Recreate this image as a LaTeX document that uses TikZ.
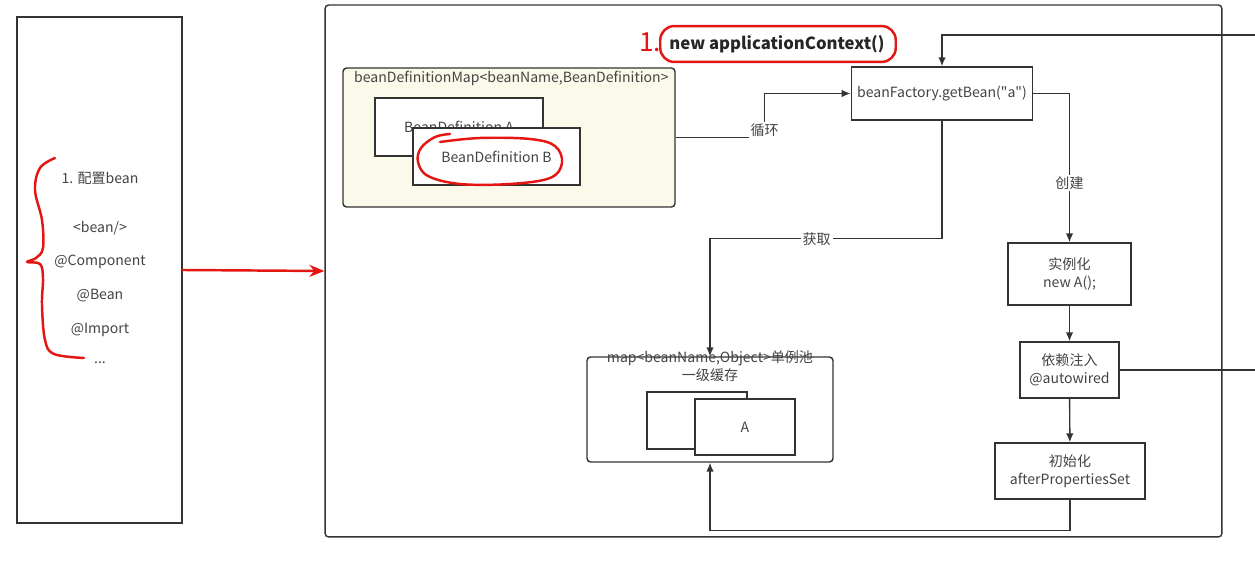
\documentclass[tikz,border=0pt]{standalone}
\usepackage{fontspec}
\setmainfont{Noto Sans CJK SC}[Ligatures=TeXOff]
\usepackage{tikz}
\usetikzlibrary{arrows.meta, positioning, calc}
\definecolor{inkgray}{RGB}{51, 51, 51}
\definecolor{textgray}{RGB}{68, 68, 68}
\definecolor{penred}{RGB}{228, 22, 18}
\definecolor{mapcream}{RGB}{251, 249, 234}

\begin{document}
\begin{tikzpicture}[x=0.02cm, y=-0.02cm,
    every node/.style={font=\fontsize{8}{10}\selectfont, text=textgray, align=center},
    box/.style={draw=inkgray, line width=0.8pt, fill=white},
    flow/.style={draw=inkgray, line width=0.8pt, -{Latex[length=1.8mm, width=1.5mm]}},
    wire/.style={draw=inkgray, line width=0.8pt},
    lbl/.style={fill=white, inner sep=1pt},
    pen/.style={draw=penred, line width=1.4pt, line cap=round, line join=round}]
  \useasboundingbox (0,0) rectangle (1255,570);

  \node[box, minimum width=3.3cm, minimum height=10.12cm] (cfg) at (99.5,270) {};
  \foreach \i/\y/\txt in {1/178/{1. 配置bean}, 2/228/{<bean/>}, 3/262/{@Component},
      4/296/{@Bean}, 5/330/{@Import}, 6/363/{...}}{
    \node (cfg\i) at (100,\y) {\txt};
  }

  \node[box, rounded corners=2pt, minimum width=17.94cm, minimum height=10.64cm] (ctx) at (773.5,271) {};
  \node[font=\fontsize{9.5}{12}\selectfont\bfseries, text=black!85] (title) at (777,44) {new applicationContext()};
  \node[text=penred, font=\fontsize{15}{17}\selectfont] (titlenum) at (650,42) {1.};

  \node[box, fill=mapcream, rounded corners=2pt, minimum width=6.64cm, minimum height=2.78cm] (bdmap) at (509,137.5) {};
  \node[anchor=west] (bdmaplbl) at (348,78) {beanDefinitionMap<beanName,BeanDefinition>};
  \node[box, minimum width=3.36cm, minimum height=1.16cm] (bdA) at (459,127) {BeanDefinition A};
  \node[box, minimum width=3.34cm, minimum height=1.14cm] (bdB) at (496.5,156.5) {BeanDefinition B};

  \node[box, minimum width=3.56cm, minimum height=1.06cm] (getbean) at (942,93.5) {beanFactory.getBean("a")};
  \node[box, minimum width=2.46cm, minimum height=1.24cm] (inst) at (1069.5,274) {实例化\\new A();};
  \node[box, minimum width=1.98cm, minimum height=1.12cm] (inject) at (1069.5,370) {依赖注入\\@autowired};
  \node[box, minimum width=3.0cm, minimum height=1.12cm] (init) at (1070,471) {初始化\\afterPropertiesSet};

  \node[box, fill=none, rounded corners=2pt, minimum width=4.92cm, minimum height=2.1cm] (pool) at (710,409.5) {};
  \node (poollbl) at (710,366) {map<beanName,Object>单例池\\一级缓存};
  \node[box, minimum width=2cm, minimum height=1.14cm] (objB) at (697,420.5) {};
  \node[box, minimum width=2cm, minimum height=1.12cm] (objA) at (745,427) {A};

  \coordinate (offT) at (1255,35);
  \coordinate (offR) at (1255,370);

  \draw[flow] (bdmap.east) -- ++(89,0) |- node[lbl, pos=0.08] {循环} (getbean.west);
  \draw[flow] (getbean.east) -| node[lbl, pos=0.8] {创建} (inst.north);
  \draw[flow] (getbean.south) -- ++(0,118) -| node[lbl, pos=0.27] {获取} (pool.north);
  \draw[flow] (inst) -- (inject);
  \draw[flow] (inject) -- (init);
  \draw[flow] (init.south) -- ++(0,31) -| (pool.south);
  \draw[flow] (offT) -| (getbean.north);
  \draw[wire] (inject.east) -- (offR);

  \draw[pen, -{Stealth[length=3mm, width=2.4mm]}] (cfg.east) -- (ctx.west);
  \draw[pen] plot[smooth, tension=0.6] coordinates {(55,158) (40,168) (35,190) (42,220) (43,248)
      (36,258) (27,262) (40,264) (43,278) (42,305) (45,340) (54,354) (84,358)};
  \draw[pen, rounded corners=8pt] ($(title.south west)+(-3,3)$) rectangle ($(title.north east)+(5,-3)$);
  \draw[pen] plot[smooth, tension=0.6] coordinates {(450,134) (435,137) (421,148) (418,162) (428,176)
      (460,184) (510,184) (550,178) (562,163) (555,146) (530,139) (480,138) (440,142)};
\end{tikzpicture}
\end{document}
